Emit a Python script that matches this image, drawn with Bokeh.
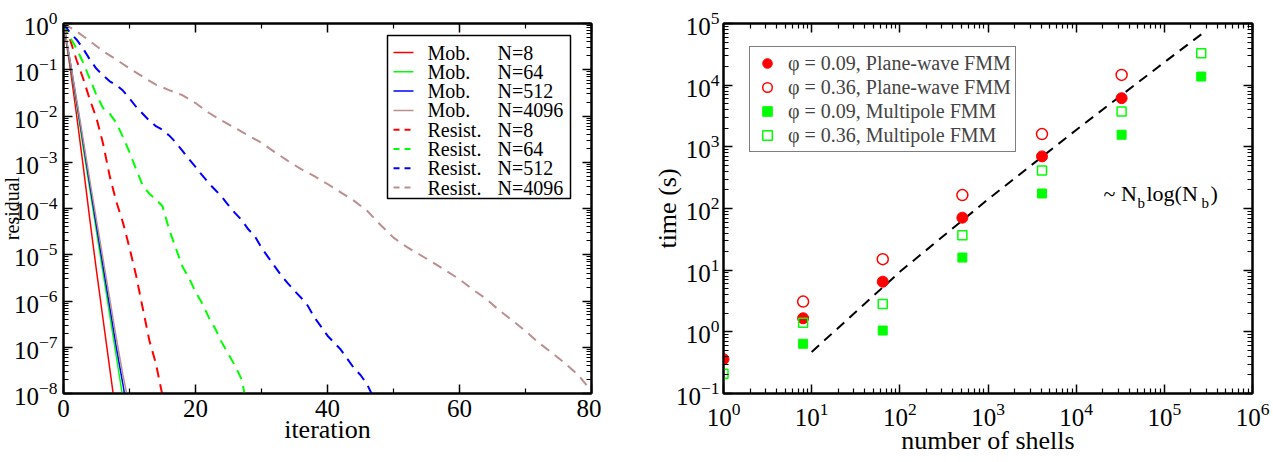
from bokeh.embed import file_html
from bokeh.layouts import row
from bokeh.models import (Arrow, BoxAnnotation, CustomJSTickFormatter, FixedTicker,
                          Label, Legend, LegendItem, LinearAxis, LogAxis)
from bokeh.plotting import figure
from bokeh.resources import INLINE

SERIF = "Liberation Serif"
RED, GREEN, BLUE, BROWN = "#ff0000", "#00ff00", "#0000ff", "#bc8f8f"

# ---------------------------------------------------------------------------
# Convergence histories: iteration number and log10 of the residual
# ---------------------------------------------------------------------------
mob8_iter = list(range(0, 9))
mob8_log = [0.0, -0.95, -2.0, -3.1, -4.25, -5.35, -6.4, -7.45, -8.5]
mob64_iter = list(range(0, 10))
mob64_log = [0.0, -0.85, -1.75, -2.7, -3.6, -4.5, -5.4, -6.3, -7.2, -8.1]
mob512_iter = list(range(0, 11))
mob512_log = [0.0, -0.82, -1.7, -2.6, -3.5, -4.38, -5.25, -6.12, -7.0, -7.8, -8.65]
mob4096_iter = list(range(0, 11))
mob4096_log = [0.0, -0.8, -1.65, -2.52, -3.4, -4.25, -5.1, -5.95, -6.8, -7.6, -8.3]

res8_iter = list(range(0, 16))
res8_log = [0.0, -0.35, -0.8, -1.2, -1.65, -2.05, -2.6, -3.3, -3.85, -4.3, -4.85,
            -5.45, -6.15, -6.85, -7.35, -8.05]
res64_iter = list(range(0, 29))
res64_log = [0.0, -0.3, -0.55, -0.85, -1.2, -1.55, -1.83, -1.95, -2.15, -2.45, -2.78,
             -3.15, -3.5, -3.68, -3.8, -3.95, -4.45, -4.85, -5.25, -5.5, -5.8,
             -6.05, -6.35, -6.6, -6.9, -7.15, -7.4, -7.7, -8.4]
res512_iter = list(range(0, 48))
res512_log = [0.0, -0.2, -0.35, -0.55, -0.78, -0.98, -1.12, -1.25, -1.33, -1.45,
              -1.62, -1.8, -1.95, -2.1, -2.22, -2.3, -2.42, -2.57, -2.75, -2.93,
              -3.1, -3.28, -3.45, -3.6, -3.75, -3.93, -4.1, -4.25, -4.45, -4.6,
              -4.85, -5.05, -5.25, -5.45, -5.62, -5.78, -5.93, -6.1, -6.35, -6.55,
              -6.75, -6.9, -7.05, -7.25, -7.45, -7.6, -7.8, -8.1]
res4096_iter = list(range(0, 81, 2))
res4096_log = [0.0, -0.17, -0.38, -0.6, -0.78, -0.97, -1.15, -1.32, -1.44, -1.55,
               -1.72, -1.93, -2.1, -2.26, -2.42, -2.58, -2.78, -2.97, -3.15, -3.3,
               -3.47, -3.65, -3.83, -4.05, -4.35, -4.63, -4.83, -5.0, -5.17, -5.35,
               -5.53, -5.75, -5.95, -6.2, -6.42, -6.65, -6.9, -7.12, -7.35, -7.6,
               -7.95]

solver_kind = ["Mob.", "Mob.", "Mob.", "Mob.",
               "Resist.", "Resist.", "Resist.", "Resist."]
system_size = ["N=8", "N=64", "N=512", "N=4096", "N=8", "N=64", "N=512", "N=4096"]

iter_ticks = [0, 20, 40, 60, 80]
iter_minor = [10, 30, 50, 70]
residual_exps = [0, -1, -2, -3, -4, -5, -6, -7, -8]

# ---------------------------------------------------------------------------
# Timing data: wall time (s) against number of shells
# ---------------------------------------------------------------------------
NAN = float("nan")
shells = [1, 8, 64, 512, 4096, 32768, 262144]
time_pw_009 = [0.36, 1.66, 6.5, 71, 700, 6150, NAN]
time_pw_036 = [NAN, 3.09, 15.1, 165, 1610, 14650, NAN]
time_mp_009 = [NAN, 0.64, 1.05, 16, 175, 1570, 13800]
time_mp_036 = [0.21, 1.40, 2.83, 37, 413, 3750, 32800]
timing_labels = ["\u03c6 = 0.09, Plane-wave FMM", "\u03c6 = 0.36, Plane-wave FMM",
                 "\u03c6 = 0.09, Multipole FMM", "\u03c6 = 0.36, Multipole FMM"]

# N_b log(N_b) scaling guide
guide_shells = [10, 100, 1000, 10000, 100000, 292000]
guide_time = [0.47, 9.4, 141, 1880, 23500, 74900]

shell_exps = [0, 1, 2, 3, 4, 5, 6]
time_exps = [-1, 0, 1, 2, 3, 4, 5]

TICK_FS = "25px"
TITLE_FS = "26px"
SHIFT = 17  # left panel border overhang hidden off the page edge


def style_axis(ax, ticker, labelled=False, standoff=0, title=None, title_standoff=0,
               title_size=TITLE_FS):
    ax.ticker = ticker
    ax.major_tick_in = 9
    ax.major_tick_out = 0
    ax.minor_tick_in = 5
    ax.minor_tick_out = 0
    ax.major_tick_line_width = 1.5
    ax.minor_tick_line_width = 1.2
    ax.major_tick_line_color = "black"
    ax.minor_tick_line_color = "black"
    ax.axis_line_width = 2
    ax.axis_line_color = "black"
    if labelled:
        ax.major_label_text_font = SERIF
        ax.major_label_text_font_size = TICK_FS
        ax.major_label_text_color = "black"
        ax.major_label_standoff = standoff
    else:
        ax.formatter = CustomJSTickFormatter(code="return ''")
        ax.major_label_text_font_size = "0px"
        ax.major_label_standoff = 0
    if title is not None:
        ax.axis_label = title
        ax.axis_label_text_font = SERIF
        ax.axis_label_text_font_size = title_size
        ax.axis_label_text_font_style = "normal"
        ax.axis_label_text_color = "black"
        ax.axis_label_standoff = title_standoff


def make_fig(x_type, y_type, x_range, y_range, left, right, fw):
    p = figure(x_axis_type=x_type, y_axis_type=y_type, x_range=x_range, y_range=y_range,
               frame_width=fw, frame_height=370, min_border_left=left,
               min_border_right=right, min_border_top=23, min_border_bottom=69,
               output_backend="svg", toolbar_location=None)
    p.grid.visible = False
    p.outline_line_color = "black"
    p.outline_line_width = 2
    p.background_fill_color = "white"
    p.border_fill_color = "white"
    return p


def text(p, s, x, y, size, align="left", baseline="middle"):
    p.add_layout(Label(x=x, y=y, x_units="screen", y_units="screen", text=s,
                       text_font=SERIF, text_font_size=size, text_align=align,
                       text_baseline=baseline, text_color="black"))


def decade_minors(lo, hi):
    return [m * 10.0 ** e for e in range(lo, hi) for m in range(2, 10)]


# ---------------------------------------------------------------------------
# Left panel: residual versus iteration
# ---------------------------------------------------------------------------
p1 = make_fig("linear", "log", (0, 80), (1e-8, 1), 63 + SHIFT, 10, 528)
x_tick = FixedTicker(ticks=iter_ticks, minor_ticks=iter_minor)
y_tick = FixedTicker(ticks=[10.0 ** e for e in residual_exps],
                     minor_ticks=decade_minors(-8, 0))
p1.add_layout(LinearAxis(), "above")
p1.add_layout(LogAxis(), "right")
style_axis(p1.below[0], x_tick, True, 6, "iteration", -5)
style_axis(p1.above[0], x_tick)
style_axis(p1.left[0], y_tick, True, 6, "residual", -12, "20px")
style_axis(p1.right[0], y_tick)

series = [
    (mob8_iter, mob8_log, RED, "solid"),
    (mob64_iter, mob64_log, GREEN, "solid"),
    (mob512_iter, mob512_log, BLUE, "solid"),
    (mob4096_iter, mob4096_log, BROWN, "solid"),
    (res8_iter, res8_log, RED, "dashed"),
    (res64_iter, res64_log, GREEN, "dashed"),
    (res512_iter, res512_log, BLUE, "dashed"),
    (res4096_iter, res4096_log, BROWN, "dashed"),
]
for it, lg, col, style in series:
    resid = [10.0 ** v for v in lg]
    if style == "solid":
        p1.line(it, resid, line_color=col, line_width=1.5)
    else:
        p1.line(it, resid, line_color=col, line_width=2, line_dash="10 7")

# hand-built legend box with two text columns
p1.add_layout(BoxAnnotation(left=324, right=507, top=358, bottom=195,
                            left_units="screen", right_units="screen",
                            top_units="screen", bottom_units="screen",
                            fill_color="white", fill_alpha=1.0,
                            line_color="black", line_width=1.5, line_alpha=1.0))
for i, (kind, size_lbl, (_, _, col, style)) in enumerate(zip(solver_kind, system_size, series)):
    ry = 341 - i * 19.3
    p1.add_layout(Arrow(x_start=330, y_start=ry, x_end=350, y_end=ry,
                        start_units="screen", end_units="screen", end=None,
                        line_color=col, line_width=1.5 if style == "solid" else 2,
                        line_dash="solid" if style == "solid" else "6 5"))
    text(p1, kind, 364, ry, "20px")
    text(p1, size_lbl, 434, ry, "20px")

# ---------------------------------------------------------------------------
# Right panel: timing versus number of shells
# ---------------------------------------------------------------------------
p2 = make_fig("log", "log", (1, 1e6), (0.1, 1e5), 122, 21, 529)
sx_tick = FixedTicker(ticks=[10.0 ** e for e in shell_exps], minor_ticks=decade_minors(0, 6))
sy_tick = FixedTicker(ticks=[10.0 ** e for e in time_exps], minor_ticks=decade_minors(-1, 5))
p2.add_layout(LogAxis(), "above")
p2.add_layout(LogAxis(), "right")
style_axis(p2.below[0], sx_tick, True, 9, "number of shells", -3)
style_axis(p2.above[0], sx_tick)
style_axis(p2.left[0], sy_tick, True, 4, "time (s)", -9)
style_axis(p2.right[0], sy_tick)

p2.line(guide_shells, guide_time, line_color="black", line_width=2, line_dash="10 7")
r_pw9 = p2.scatter(shells, time_pw_009, marker="circle", size=11,
                   fill_color=RED, line_color=RED)
r_pw36 = p2.scatter(shells, time_pw_036, marker="circle", size=11, fill_color="white",
                    fill_alpha=0.0, line_color=RED, line_width=1.5)
r_mp9 = p2.scatter(shells, time_mp_009, marker="square", size=9,
                   fill_color=GREEN, line_color=GREEN)
r_mp36 = p2.scatter(shells, time_mp_036, marker="square", size=9, fill_color="white",
                    fill_alpha=0.0, line_color=GREEN, line_width=1.5)

legend = Legend(items=[LegendItem(label=lbl, renderers=[r]) for lbl, r in
                       zip(timing_labels, [r_pw9, r_pw36, r_mp9, r_mp36])],
                location=(26, 241), label_text_font=SERIF, label_text_font_size="20px",
                label_height=24, glyph_height=24, glyph_width=26, label_standoff=8,
                padding=4, spacing=0, margin=0, border_line_color="black",
                border_line_width=1.5, background_fill_color="white",
                background_fill_alpha=1.0)
p2.add_layout(legend)

# N_b log(N_b) annotation with subscripts
text(p2, "~ N", 380, 200, "22px", baseline="alphabetic")
text(p2, "b", 414, 191, "15px", baseline="alphabetic")
text(p2, "log(N", 423, 200, "22px", baseline="alphabetic")
text(p2, "b", 478, 191, "15px", baseline="alphabetic")
text(p2, ")", 487, 200, "22px", baseline="alphabetic")

layout = row(p1, p2, styles={"margin-left": f"-{SHIFT}px"})
open("out.html", "w").write(file_html(layout, INLINE))
